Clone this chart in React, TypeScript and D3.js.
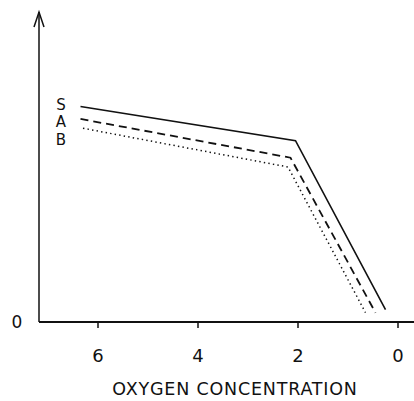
import React from 'react'
import * as d3 from 'd3'

// oxygen concentration (x) and response (arbitrary units, y)
const seriesNames = ['S', 'A', 'B']
const sOxygen = [6.35, 2.05, 0.25]
const sValues = [6.95, 5.85, 0.4]
const aOxygen = [6.35, 2.15, 0.45]
const aValues = [6.55, 5.3, 0.3]
const bOxygen = [6.3, 2.2, 0.65]
const bValues = [6.25, 5.0, 0.3]
const xTicks = [6, 4, 2, 0]
const xTitle = 'OXYGEN  CONCENTRATION'

const width = 414
const height = 401
const font = "'DejaVu Sans', 'Liberation Sans', sans-serif"

const App: React.FC = () => {
  const x = d3.scaleLinear().domain([6, 0]).range([98, 398])
  const y = d3.scaleLinear().domain([0, 10]).range([322, 12])

  const series = [
    { name: seriesNames[0], ox: sOxygen, vals: sValues, dash: 'none', w: 1.6 },
    { name: seriesNames[1], ox: aOxygen, vals: aValues, dash: '8 5', w: 1.8 },
    { name: seriesNames[2], ox: bOxygen, vals: bValues, dash: '1.4 3.2', w: 1.5 },
  ]

  const line = d3
    .line<[number, number]>()
    .x((d) => x(d[0]))
    .y((d) => y(d[1]))

  const x0 = x(7.18)
  const yTop = y(10)

  return (
    <svg
      width={width}
      height={height}
      style={{ position: 'absolute', left: 0, top: 0, background: '#fff' }}
      fontFamily={font}
    >
      {/* y axis with open arrow */}
      <line x1={x0} x2={x0} y1={y(0)} y2={yTop} stroke="#111" strokeWidth={1.5} />
      <path
        d={`M${x0 - 5},${yTop + 15} L${x0},${yTop} L${x0 + 5},${yTop + 15}`}
        fill="none"
        stroke="#111"
        strokeWidth={1.5}
      />
      <text x={17} y={y(0)} dy="0.36em" textAnchor="middle" fontSize={17} fill="#111">
        0
      </text>

      {/* x axis */}
      <line x1={x0} x2={width} y1={y(0)} y2={y(0)} stroke="#111" strokeWidth={2} />
      {xTicks.map((t) => (
        <g key={t} transform={`translate(${x(t)},${y(0)})`}>
          <line y1={0} y2={6} stroke="#111" strokeWidth={1.5} />
          <text y={40} textAnchor="middle" fontSize={18} fill="#111">
            {t}
          </text>
        </g>
      ))}
      <text
        x={235}
        y={395}
        textAnchor="middle"
        fontSize={17.5}
        letterSpacing={0.8}
        fill="#111"
      >
        {xTitle}
      </text>

      {/* series */}
      {series.map((s) => (
        <path
          key={s.name}
          d={line(s.ox.map((o, i) => [o, s.vals[i]] as [number, number])) || ''}
          fill="none"
          stroke="#111"
          strokeWidth={s.w}
          strokeDasharray={s.dash}
        />
      ))}
      {/* stacked series labels */}
      {series.map((s, i) => (
        <text
          key={s.name}
          x={61}
          y={109.5 + i * 17.5}
          textAnchor="middle"
          fontSize={15}
          fill="#111"
        >
          {s.name}
        </text>
      ))}
    </svg>
  )
}

export default App
